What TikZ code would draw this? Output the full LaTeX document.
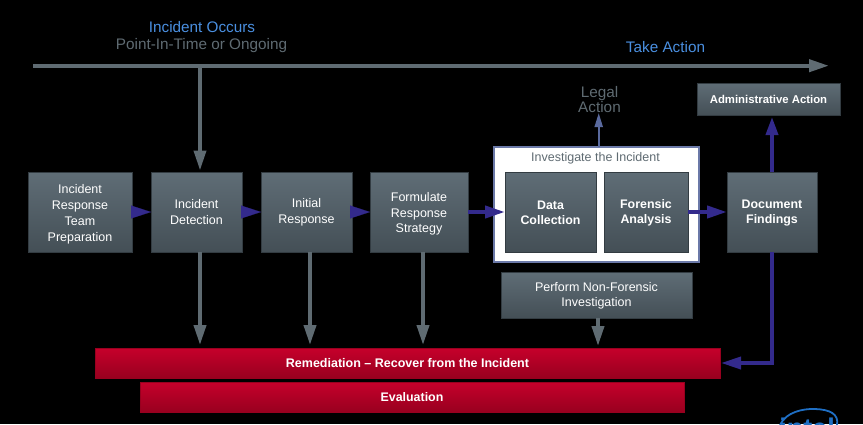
\documentclass[tikz,border=0pt]{standalone}
\usepackage{fontspec}
\setmainfont{Liberation Sans}
\usetikzlibrary{arrows.meta}
\definecolor{slate}{HTML}{5F6B72}
\definecolor{slatetop}{HTML}{5F6D76}
\definecolor{slatebot}{HTML}{444F56}
\definecolor{slateedge}{HTML}{333C42}
\definecolor{violetline}{HTML}{332A8C}
\definecolor{legalline}{HTML}{5A6A9E}
\definecolor{skyblue}{HTML}{4A8FE0}
\definecolor{redtop}{HTML}{C6002B}
\definecolor{redbot}{HTML}{98001F}
\definecolor{intelblue}{HTML}{1F6FC4}
\newcommand\dropby[1]{\rule{0pt}{\dimexpr 8.7pt+2\dimexpr #1\relax\relax}}
\tikzset{
  procbox/.style={draw=slateedge,line width=0.4pt,top color=slatetop,bottom color=slatebot,
    text=white,align=center,inner sep=0pt,outer sep=0pt,
    font=\fontsize{12.5}{15.8}\selectfont},
  boldbox/.style={procbox,font=\fontsize{12.4}{15.4}\selectfont\bfseries},
  redbar/.style={draw=redbot,line width=0.5pt,top color=redtop,bottom color=redbot,
    text=white,inner sep=0pt,outer sep=0pt,font=\fontsize{12.5}{15}\selectfont\bfseries},
  framebox/.style={draw=legalline!90!white,line width=1.1pt,fill=white,inner sep=0pt,outer sep=0pt},
  toplabel/.style={align=center,inner sep=0pt,font=\fontsize{15.3}{18}\selectfont},
  greyarrow/.style={draw=slate,line width=3.8pt,-{Triangle[length=20pt,width=12pt,fill=slate]}},
  vioarrow/.style={draw=violetline,line width=4pt,-{Triangle[length=20pt,width=12pt,fill=violetline]}},
  viotip/.style={draw=violetline,line width=0.1pt,-{Triangle[length=20pt,width=13pt,fill=violetline]}},
}
\begin{document}
\begin{tikzpicture}[x=1pt,y=-1pt]
\fill[black] (0,0) rectangle (863,424);
\useasboundingbox (0,0) rectangle (863,424);

% top labels and timeline
\node[toplabel,text=skyblue] (occurs) at (202,27.5) {Incident Occurs};
\node[toplabel,text=slate] (point) at (201.5,45.5) {Point-In-Time or Ongoing};
\node[toplabel,text=skyblue] (take) at (665.5,47) {Take Action};
\coordinate (tstart) at (33,65.7);
\coordinate (tend) at (829,65.7);
\coordinate (tdrop) at (200,65.7);
\draw[draw=slate,line width=4pt,-{Triangle[length=20pt,width=12pt,fill=slate]}] (tstart) -- (tend);

% frame
\node[framebox,minimum width=205pt,minimum height=115pt] (frame) at (596.5,204.5) {};
\node[inner sep=0pt,text=slate,font=\fontsize{12.5}{15}\selectfont] (frametitle) at (595.5,158.5) {Investigate the Incident};

% process boxes
\node[procbox,minimum width=104pt,minimum height=80pt] (prep) at (80,212) {\dropby{2.5pt}Incident\\Response\\Team\\Preparation};
\node[procbox,minimum width=91pt,minimum height=80pt] (detect) at (196.5,212) {Incident\\Detection};
\node[procbox,minimum width=91pt,minimum height=80pt] (initial) at (306.5,212) {Initial\\Response};
\node[procbox,minimum width=98pt,minimum height=80pt] (formulate) at (419,212) {\dropby{2pt}Formulate\\Response\\Strategy};
\node[boldbox,minimum width=91pt,minimum height=80pt] (data) at (550.5,212) {\dropby{1pt}Data\\Collection};
\node[boldbox,minimum width=84pt,minimum height=80pt] (forensic) at (646,212) {\dropby{1pt}Forensic\\Analysis};
\node[boldbox,minimum width=90pt,minimum height=80pt] (document) at (772,212) {\dropby{1pt}Document\\Findings};
\node[procbox,font=\fontsize{11.35}{15}\selectfont,minimum width=143pt,minimum height=32pt] (admin) at (768.5,99) {\textbf{Administrative Action}};
\node[procbox,minimum width=191pt,minimum height=46pt] (perform) at (596.5,295) {\dropby{1pt}Perform Non-Forensic\\Investigation};
\node[redbar,minimum width=625pt,minimum height=30pt] (remed) at (407.5,363) {Remediation -- Recover from the Incident};
\node[redbar,font=\fontsize{12.4}{15}\selectfont\bfseries,minimum width=544pt,minimum height=30pt] (evalu) at (412,397) {Evaluation};
\node[inner sep=0pt,text=slate,align=center,font=\fontsize{15.3}{15.2}\selectfont] (legal) at (599.5,99.5) {Legal\\Action};

% grey arrows
\draw[greyarrow,shorten >=1.5pt] (tdrop) -- (tdrop |- detect.north);
\coordinate (gb) at (423,252);
\coordinate (gc) at (310,252);
\draw[greyarrow,shorten >=3pt] (tdrop |- detect.south) -- (tdrop |- remed.north);
\draw[greyarrow,shorten >=3pt] (gc) -- (gc |- remed.north);
\draw[greyarrow,shorten >=3pt] (gb) -- (gb |- remed.north);
\coordinate (gp) at (598,318);
\draw[greyarrow,shorten >=2pt] (gp) -- (gp |- remed.north);

% violet arrows
\draw[viotip] (prep.east) -- (detect.west);
\draw[viotip] (detect.east) -- (initial.west);
\draw[viotip] (initial.east) -- (formulate.west);
\draw[vioarrow] (formulate.east) -- (data.west);
\draw[vioarrow] (forensic.east) -- (document.west);
\draw[draw=violetline,line width=3.7pt,shorten >=2pt,-{Triangle[length=18pt,width=12pt,fill=violetline]}] (document.north) -- (admin.south -| document.north);
\draw[draw=violetline,line width=3.7pt,-{Triangle[length=20pt,width=12pt,fill=violetline]},shorten >=1pt,line join=miter]
  (document.south) -- (document.south |- remed.east) -- (remed.east);

% legal arrow
\coordinate (la) at (598.7,147);
\draw[draw=legalline,line width=2pt,-{Triangle[length=14pt,width=8pt,fill=legalline]}] (la) -- (598.7,113);

% logo, cut off by the page edge
\begin{scope}
\clip (760,395) rectangle (863,424);
\draw[intelblue,line width=1.8pt] (780,425) .. controls (786,412) and (803,408.5) .. (815,409) .. controls (830,409.5) and (839,414) .. (837,425);
\node[inner sep=0pt,anchor=base,text=intelblue,font=\fontsize{27}{28}\selectfont\bfseries] (intel) at (807,437.5) {intel};
\end{scope}
\end{tikzpicture}
\end{document}
